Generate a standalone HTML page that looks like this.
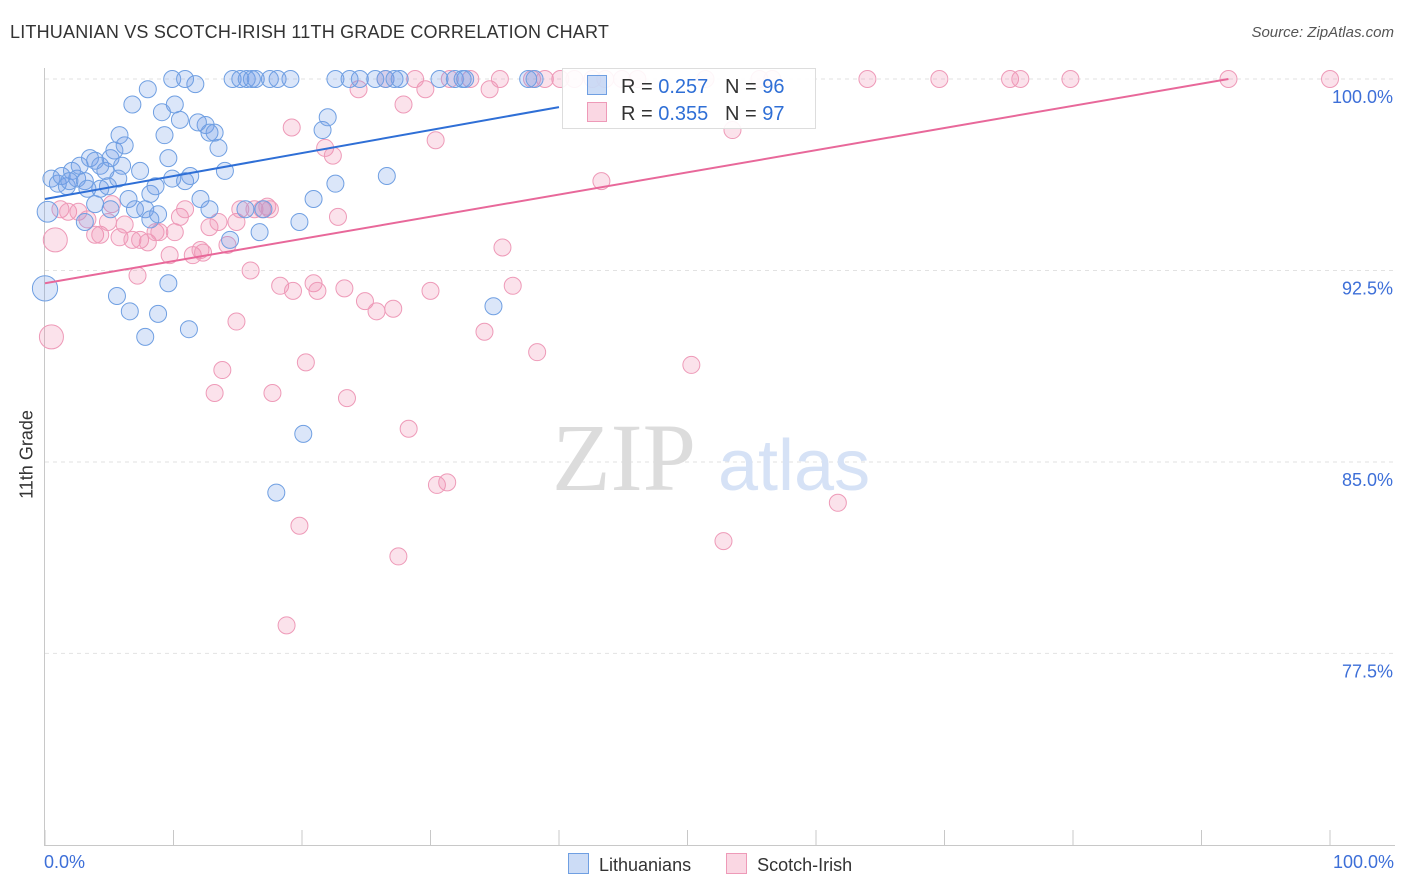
<!DOCTYPE html>
<html><head><meta charset="utf-8"><style>
body{margin:0;background:#fff;font-family:"Liberation Sans",sans-serif}
#wrap{position:relative;width:1406px;height:892px;overflow:hidden}
</style></head><body>
<div id="wrap">
<svg id="chart" width="1406" height="892"></svg>
</div>
<script>
const blueX=[0.5,1.0,1.3,1.7,2.1,1.9,2.5,2.7,3.1,3.5,3.9,4.3,4.7,5.1,5.4,5.8,6.2,6.0,4.9,3.9,3.1,5.1,5.7,6.5,7.0,7.4,7.8,8.2,8.6,8.2,8.8,9.3,9.6,10.1,9.9,10.5,10.9,11.3,11.7,12.1,12.5,12.8,12.8,13.5,14.0,14.4,15.6,16.7,17.0,
9.9,10.9,14.6,15.2,15.7,16.1,16.4,17.5,18.1,19.1,
19.8,20.9,21.6,22.0,22.6,
22.6,23.7,24.5,25.7,26.5,27.2,27.6,30.7,31.9,32.5,32.7,37.6,38.1,
26.6,34.9,5.6,6.6,8.8,9.6,11.2,7.8,20.1,18.0,6.8,8.0,9.1,11.9,13.2,0.2,0.0,4.3,3.3];
const blueY=[96.1,95.9,96.2,95.8,96.4,96.0,96.1,96.6,96.0,96.9,96.8,96.6,96.4,96.9,97.2,97.8,97.4,96.6,95.8,95.1,94.4,94.9,96.1,95.3,94.9,96.4,94.9,95.5,95.8,94.5,94.7,97.8,96.9,99.0,96.1,98.4,96.0,96.2,99.8,95.3,98.2,94.9,97.9,97.3,96.4,93.7,94.9,94.0,94.9,
100,100,100,100,100,100,100,100,100,100,
94.4,95.3,98.0,98.5,95.9,
100,100,100,100,100,100,100,100,100,100,100,100,100,
96.2,91.1,91.5,90.9,90.8,92.0,90.2,89.9,86.1,83.8,99.0,99.6,98.7,98.3,97.9,94.8,91.8,95.7,95.7];
const blueWeight=blueX.map((_,i)=>i===blueX.length-3?2.2:(i===blueX.length-4?1.5:1));
const pinkX=[0.8,0.5,1.2,1.8,2.6,3.3,3.9,4.3,4.9,5.2,5.8,6.2,6.8,7.4,8.0,8.6,8.9,9.7,10.1,10.5,10.9,11.5,12.1,12.3,12.8,13.5,14.2,14.9,15.2,16.0,16.3,16.9,17.3,17.5,19.2,18.3,19.3,20.9,21.2,21.8,22.4,22.8,23.3,24.9,25.8,27.1,27.9,30.0,30.4,34.2,35.6,36.4,38.3,7.2,13.8,14.9,13.2,17.7,20.3,23.5,28.3,30.5,31.3,19.8,27.5,18.8,43.3,50.3,61.7,52.8,53.5,24.4,29.6,34.6,
26.5,28.8,31.5,33.1,35.4,37.9,38.9,40.1,41.2,42.6,43.6,44.9,46.1,51.4,55.6,56.6,64.0,69.6,75.1,75.9,79.8,92.1,100];
const pinkY=[93.7,89.9,94.9,94.8,94.8,94.5,93.9,93.9,94.4,95.1,93.8,94.3,93.7,93.7,93.6,94.0,94.0,93.1,94.0,94.6,94.9,93.1,93.3,93.2,94.2,94.4,93.5,94.4,94.9,92.5,94.9,94.9,95.0,94.9,98.1,91.9,91.7,92.0,91.7,97.3,97.0,94.6,91.8,91.3,90.9,91.0,99.0,91.7,97.6,90.1,93.4,91.9,89.3,92.3,88.6,90.5,87.7,87.7,88.9,87.5,86.3,84.1,84.2,82.5,81.3,78.6,96.0,88.8,83.4,81.9,98.0,99.6,99.6,99.6,
100,100,100,100,100,100,100,100,100,100,100,100,100,100,100,100,100,100,100,100,100,100,100];
const pinkWeight=pinkX.map((_,i)=>i<2?2:1);
const yTicks=[100,92.5,85,77.5];
const yTickLabels=["100.0%","92.5%","85.0%","77.5%"];
const blueTrend=[0,95.3,40,98.9];
const pinkTrend=[0,92.0,92.1,100];

const X0=45,X1=1330,YTOP=79,PXPER=25.53;
const sx=v=>X0+(X1-X0)*v/100;
const sy=v=>YTOP+(100-v)*PXPER;
const NS="http://www.w3.org/2000/svg";
const svg=document.getElementById('chart');
function mk(t,a,p){const e=document.createElementNS(NS,t);for(const k in a)e.setAttribute(k,a[k]);(p||svg).appendChild(e);return e;}

yTicks.forEach((t,i)=>{
 const g=mk('line',{x1:45,x2:1395,y1:sy(t),y2:sy(t),stroke:'#e2e2e2','stroke-dasharray':'4,4'});
 
 
 const tx=mk('text',{x:1393,y:sy(t)+24,'text-anchor':'end','font-size':18,fill:'#3d6fd8'});
 tx.textContent=yTickLabels[i];
 
 
});
let ax=mk('line',{x1:44.5,x2:44.5,y1:68,y2:845,stroke:'#c8c8c8'});


ax=mk('line',{x1:44,x2:1395,y1:845.5,y2:845.5,stroke:'#c8c8c8'});


for(let i=0;i<=10;i++){
 const t=mk('line',{x1:sx(i*10),x2:sx(i*10),y1:830,y2:845,stroke:'#c8c8c8'});
 
 
}
let wm=mk('text',{x:552,y:490,'font-size':96,fill:'#dcdcdc','font-family':'Liberation Serif, serif'});
wm.textContent='ZIP';


wm=mk('text',{x:718,y:490,'font-size':72,fill:'#d6e2f6'});
wm.textContent='atlas';



function pts(xs,ys,ws,fill,stroke,name){
 xs.forEach((x,i)=>{
  const c=mk('circle',{cx:sx(x),cy:sy(ys[i]),r:8.5*Math.sqrt(ws[i]),fill:fill,stroke:stroke,'stroke-width':1});
  
  
 });
}
pts(pinkX,pinkY,pinkWeight,'rgba(240,140,175,0.25)','#ee9ab8','scotch-irish-point');
pts(blueX,blueY,blueWeight,'rgba(110,155,230,0.25)','#6f9fe2','lithuanian-point');
let tl=mk('line',{x1:sx(blueTrend[0]),y1:sy(blueTrend[1]),x2:sx(blueTrend[2]),y2:sy(blueTrend[3]),stroke:'#2f6fd6','stroke-width':2});


tl=mk('line',{x1:sx(pinkTrend[0]),y1:sy(pinkTrend[1]),x2:sx(pinkTrend[2]),y2:sy(pinkTrend[3]),stroke:'#e8689a','stroke-width':2});


</script>
<div style="position:absolute;left:10px;top:22px;font-size:18px;color:#333;letter-spacing:0.2px">LITHUANIAN VS SCOTCH-IRISH 11TH GRADE CORRELATION CHART</div>
<div style="position:absolute;right:12px;top:24px;font-size:15px;color:#555;font-style:italic">Source: ZipAtlas.com</div>
<div style="position:absolute;left:-33px;top:444px;transform:rotate(-90deg);font-size:18px;color:#333;width:120px;text-align:center;white-space:nowrap">11th Grade</div>
<div style="position:absolute;left:44px;top:852px;font-size:18px;color:#3d6fd8">0.0%</div>
<div style="position:absolute;right:12px;top:852px;font-size:18px;color:#3d6fd8">100.0%</div>
<div style="position:absolute;left:562px;top:68px;width:254px;height:61px;background:rgba(255,255,255,0.9);border:1px solid #ddd;box-sizing:border-box;font-size:20px;color:#333">
 <div style="position:absolute;left:24px;top:6px;white-space:nowrap"><span style="display:inline-block;width:18px;height:18px;background:rgba(110,155,230,0.35);border:1px solid #6f9fe2;vertical-align:-2px;margin-right:14px"></span>R = <span style="color:#2f6fd6">0.257</span>&nbsp;&nbsp;&nbsp;N = <span style="color:#2f6fd6">96</span></div>
 <div style="position:absolute;left:24px;top:33px;white-space:nowrap"><span style="display:inline-block;width:18px;height:18px;background:rgba(240,140,175,0.35);border:1px solid #ee9ab8;vertical-align:-2px;margin-right:14px"></span>R = <span style="color:#2f6fd6">0.355</span>&nbsp;&nbsp;&nbsp;N = <span style="color:#2f6fd6">97</span></div>
</div>
<div style="position:absolute;left:568px;top:853px;font-size:18px;color:#333;white-space:nowrap">
 <span><span style="display:inline-block;width:19px;height:19px;background:rgba(110,155,230,0.35);border:1px solid #6f9fe2;vertical-align:-3px;margin-right:10px"></span>Lithuanians</span>
 <span style="margin-left:30px"><span style="display:inline-block;width:19px;height:19px;background:rgba(240,140,175,0.35);border:1px solid #ee9ab8;vertical-align:-3px;margin-right:10px"></span>Scotch-Irish</span>
</div>
</body></html>
